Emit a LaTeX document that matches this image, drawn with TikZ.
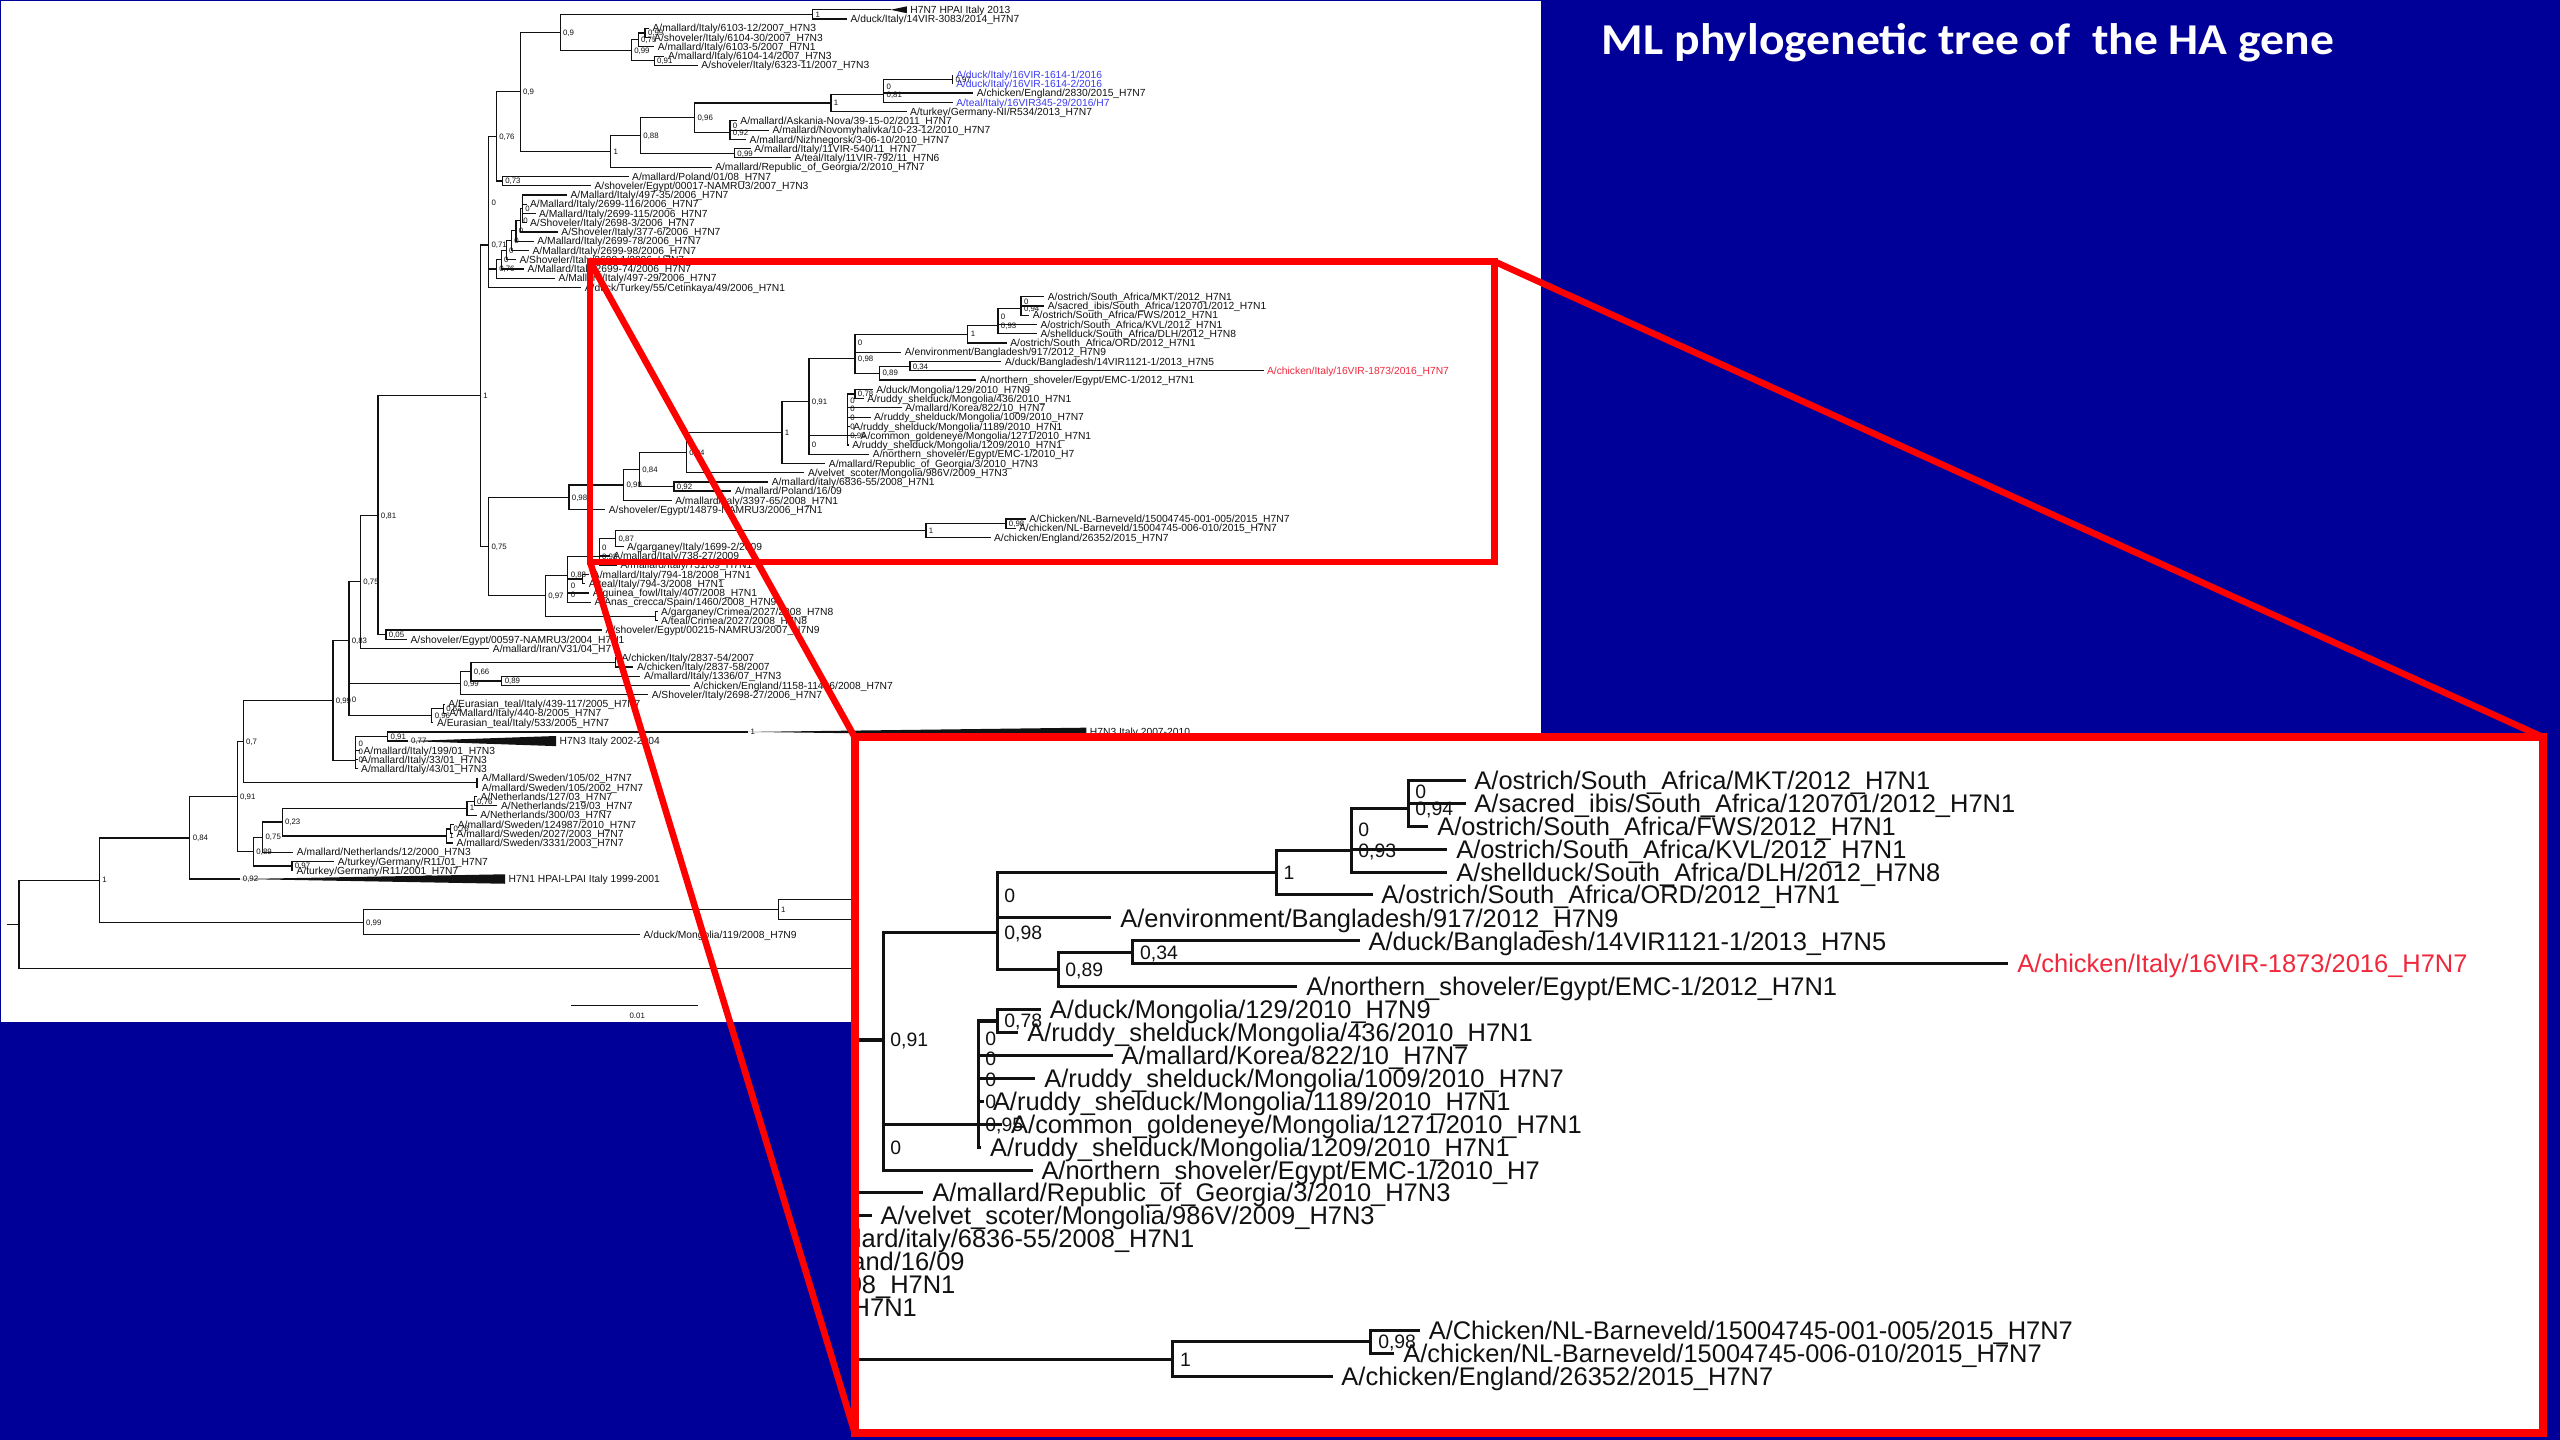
\documentclass[tikz,border=0pt]{standalone}
\usepackage{fontspec}
\usepackage{tikz}
\usetikzlibrary{positioning,calc}
\newfontfamily\treefont{Liberation Sans}
\newfontfamily\slidefont[FakeStretch=1.08]{Carlito}

\definecolor{slide}   {HTML}{000099}
\definecolor{ink}     {HTML}{111111}
\definecolor{hilite}  {HTML}{FF0000}
\definecolor{newblue} {HTML}{3C3CF5}
\definecolor{newred}  {HTML}{F0283C}

\tikzset{
  % --- nodes
  taxon/.style  = {anchor=west, inner xsep=2pt, inner ysep=0pt, text height=4.5pt, text depth=0pt,
                   text=ink, font=\treefont\fontsize{6.3}{7}\selectfont},
  newseq/.style = {taxon, text=newblue},
  query/.style  = {taxon, text=newred},
  sup/.style    = {anchor=west, inner sep=0pt, xshift=1.6pt, text height=3.44pt, text depth=0pt,
                   text=ink, font=\treefont\fontsize{4.8}{5.5}\selectfont},
  ttl/.style    = {anchor=base west, inner sep=0pt, text=white,
                   font=\slidefont\bfseries\fontsize{27}{31}\selectfont},
  % --- edges
  br/.style     = {draw=ink, line width=0.75pt},
  clade/.style  = {fill=ink},
  zoomline/.style = {draw=hilite, line width=4pt},
}

% taxon label at the tip of its branch
\newcommand\taxon[5][taxon]{\node[#1] (#2) at (#3,#4) {#5};}
% inner node with its support value
\newcommand\inode[4]{\coordinate (#1) at (#2,#3); \node[sup] (#1s) at (#1) {#4};}
% rectangular branches to the children
\newcommand\kids[2]{\foreach \kid in {#2} {\draw[br] (#1) |- (\kid);}}
% collapsed clade
\newcommand\clade[7]{\coordinate (#1) at (#2,#3);
  \fill[clade] (#1) -- (#4,{#3-#5}) -- (#4,{#3+#5}) -- cycle;
  \node[taxon] (#1l) at (#4,#3) {#6}; \node[sup] (#1s) at (#1) {#7};}

% --- upper clades (H7N7 2013 ... Cetinkaya)
\newcommand\treetop{%
  \clade{t01}{545.5}{6.0}{555.4}{2.1}{H7N7 HPAI Italy 2013}{}
  \taxon{l02}{518.8}{11.7}{A/duck/Italy/14VIR-3083/2014\_H7N7}
  \taxon{l03}{397.5}{17.3}{A/mallard/Italy/6103-12/2007\_H7N3}
  \taxon{l04}{398.5}{23.0}{A/shoveler/Italy/6104-30/2007\_H7N3}
  \taxon{l05}{400.7}{28.7}{A/mallard/Italy/6103-5/2007\_H7N1}
  \taxon{l06}{407.0}{34.4}{A/mallard/Italy/6104-14/2007\_H7N3}
  \taxon{l07}{427.4}{40.0}{A/shoveler/Italy/6323-11/2007\_H7N3}
  \taxon[newseq]{l08}{583.5}{45.7}{A/duck/Italy/16VIR-1614-1/2016}
  \taxon[newseq]{l09}{583.5}{51.4}{A/duck/Italy/16VIR-1614-2/2016}
  \taxon{l10}{596.1}{57.0}{A/chicken/England/2830/2015\_H7N7}
  \taxon[newseq]{l11}{583.5}{62.7}{A/teal/Italy/16VIR345-29/2016/H7}
  \taxon{l12}{555.3}{68.4}{A/turkey/Germany-NI/R534/2013\_H7N7}
  \taxon{l13}{451.3}{74.0}{A/mallard/Askania-Nova/39-15-02/2011\_H7N7}
  \taxon{l14}{471.0}{79.7}{A/mallard/Novomyhalivka/10-23-12/2010\_H7N7}
  \taxon{l15}{457.0}{85.4}{A/mallard/Nizhnegorsk/3-06-10/2010\_H7N7}
  \taxon{l16}{459.8}{91.1}{A/mallard/Italy/11VIR-540/11\_H7N7}
  \taxon{l17}{484.5}{96.7}{A/teal/Italy/11VIR-792/11\_H7N6}
  \taxon{l18}{435.9}{102.4}{A/mallard/Republic\_of\_Georgia/2/2010\_H7N7}
  \taxon{l19}{385.0}{108.1}{A/mallard/Poland/01/08\_H7N7}
  \taxon{l20}{362.0}{113.7}{A/shoveler/Egypt/00017-NAMRU3/2007\_H7N3}
  \taxon{l21}{347.3}{119.4}{A/Mallard/Italy/497-35/2006\_H7N7}
  \taxon{l22}{322.5}{125.1}{A/Mallard/Italy/2699-116/2006\_H7N7}
  \taxon{l23}{328.0}{130.7}{A/Mallard/Italy/2699-115/2006\_H7N7}
  \taxon{l24}{322.5}{136.4}{A/Shoveler/Italy/2698-3/2006\_H7N7}
  \taxon{l25}{341.7}{142.1}{A/Shoveler/Italy/377-6/2006\_H7N7}
  \taxon{l26}{327.0}{147.8}{A/Mallard/Italy/2699-78/2006\_H7N7}
  \taxon{l27}{324.0}{153.4}{A/Mallard/Italy/2699-98/2006\_H7N7}
  \taxon{l28}{316.0}{159.1}{A/Shoveler/Italy/2698-1/2006\_H7N7}
  \taxon{l29}{321.0}{164.8}{A/Mallard/Italy/2699-74/2006\_H7N7}
  \taxon{l30}{340.0}{170.4}{A/Mallard/Italy/497-29/2006\_H7N7}
  \taxon{l31}{356.0}{176.1}{A/duck/Turkey/55/Cetinkaya/49/2006\_H7N1}
  \inode{n1}{497.7}{8.85}{1}          \kids{n1}{t01,l02}
  \inode{a1}{395.1}{20.15}{0,99}      \kids{a1}{l03,l04}
  \inode{a2}{390.9}{24.4}{0,75}       \kids{a2}{a1,l05}
  \inode{a3}{400.7}{37.2}{0,91}       \kids{a3}{l06,l07}
  \inode{a4}{386.7}{30.8}{0,99}       \kids{a4}{a2,a3}
  \inode{n09a}{343.1}{19.8}{0,9}      \kids{n09a}{n1,a4}
  \inode{b1}{583.5}{48.55}{0,97}      \kids{b1}{l08,l09}
  \inode{b2}{541.3}{52.8}{0}          \kids{b2}{b1,l10}
  \inode{b3}{541.3}{57.75}{0,81}      \kids{b3}{b2,l11}
  \inode{b4}{509.0}{63.1}{1}          \kids{b4}{b3,l12}
  \inode{c1}{447.1}{76.85}{0}         \kids{c1}{l13,l14}
  \inode{c2}{447.1}{81.1}{0,92}       \kids{c2}{c1,l15}
  \inode{c3}{425.5}{72.1}{0,96}       \kids{c3}{b4,c2}
  \inode{c4}{449.9}{93.9}{0,99}       \kids{c4}{l16,l17}
  \inode{c5}{392.3}{83.0}{0,88}       \kids{c5}{c3,c4}
  \inode{c6}{374.0}{92.7}{1}          \kids{c6}{c5,l18}
  \inode{n09b}{318.6}{56.25}{0,9}     \kids{n09b}{n09a,c6}
  \inode{n073}{307.7}{110.9}{0,73}    \kids{n073}{l19,l20}
  \inode{n076}{304.0}{83.6}{0,76}     \kids{n076}{n09b,n073}
  \inode{d1}{320.0}{127.9}{0}         \kids{d1}{l21,l22,l23,l24}
  \inode{d2}{318.7}{135.0}{0}         \kids{d2}{d1,l25}
  \inode{d3}{316.0}{141.4}{0}         \kids{d3}{d2,l26}
  \inode{d4}{313.3}{147.4}{0}         \kids{d4}{d3,l27}
  \inode{d5}{310.0}{153.3}{0}         \kids{d5}{d4,l28}
  \inode{d6}{307.0}{159.0}{0}         \kids{d6}{d5,l29}
  \inode{n076b}{304.0}{164.7}{0,76}   \kids{n076b}{d6,l30}
  \inode{e1}{299.3}{124.15}{0}        \kids{e1}{n076,n076b}
  \inode{e2}{299.3}{150.1}{0,71}      \kids{e2}{e1,l31}
}

% --- the framed part (South Africa ... NL-Barneveld)
\newcommand\treered{%
  \taxon{l32}{639.6}{181.8}{A/ostrich/South\_Africa/MKT/2012\_H7N1}
  \taxon{l33}{639.6}{187.4}{A/sacred\_ibis/South\_Africa/120701/2012\_H7N1}
  \taxon{l34}{630.4}{193.1}{A/ostrich/South\_Africa/FWS/2012\_H7N1}
  \taxon{l35}{635.1}{198.8}{A/ostrich/South\_Africa/KVL/2012\_H7N1}
  \taxon{l36}{635.1}{204.5}{A/shellduck/South\_Africa/DLH/2012\_H7N8}
  \taxon{l37}{616.6}{210.1}{A/ostrich/South\_Africa/ORD/2012\_H7N1}
  \taxon{l38}{552.0}{215.8}{A/environment/Bangladesh/917/2012\_H7N9}
  \taxon{l39}{613.4}{221.5}{A/duck/Bangladesh/14VIR1121-1/2013\_H7N5}
  \taxon[query]{l40}{773.9}{227.1}{A/chicken/Italy/16VIR-1873/2016\_H7N7}
  \taxon{l41}{598.0}{232.8}{A/northern\_shoveler/Egypt/EMC-1/2012\_H7N1}
  \taxon{l42}{534.6}{238.5}{A/duck/Mongolia/129/2010\_H7N9}
  \taxon{l43}{529.0}{244.1}{A/ruddy\_shelduck/Mongolia/436/2010\_H7N1}
  \taxon{l44}{552.3}{249.8}{A/mallard/Korea/822/10\_H7N7}
  \taxon{l45}{533.2}{255.5}{A/ruddy\_shelduck/Mongolia/1009/2010\_H7N7}
  \taxon{l46}{520.5}{261.2}{A/ruddy\_shelduck/Mongolia/1189/2010\_H7N1}
  \taxon{l47}{525.0}{266.8}{A/common\_goldeneye/Mongolia/1271/2010\_H7N1}
  \taxon{l48}{519.8}{272.5}{A/ruddy\_shelduck/Mongolia/1209/2010\_H7N1}
  \taxon{l49}{532.5}{278.2}{A/northern\_shoveler/Egypt/EMC-1/2010\_H7}
  \taxon{l50}{505.5}{283.8}{A/mallard/Republic\_of\_Georgia/3/2010\_H7N3}
  \taxon{l51}{492.7}{289.5}{A/velvet\_scoter/Mongolia/986V/2009\_H7N3}
  \taxon{l52}{470.5}{295.2}{A/mallard/italy/6836-55/2008\_H7N1}
  \taxon{l53}{448.0}{300.8}{A/mallard/Poland/16/09}
  \taxon{l54}{411.4}{306.5}{A/mallard/italy/3397-65/2008\_H7N1}
  \taxon{l55}{370.7}{312.2}{A/shoveler/Egypt/14879-NAMRU3/2006\_H7N1}
  \taxon{l56}{628.3}{317.9}{A/Chicken/NL-Barneveld/15004745-001-005/2015\_H7N7}
  \taxon{l57}{622.0}{323.5}{A/chicken/NL-Barneveld/15004745-006-010/2015\_H7N7}
  \taxon{l58}{606.7}{329.2}{A/chicken/England/26352/2015\_H7N7}
  \inode{s1}{625.4}{184.6}{0}         \kids{s1}{l32,l33}
  \inode{s2}{625.4}{188.85}{0,94}     \kids{s2}{s1,l34}
  \inode{s3}{611.3}{193.85}{0}        \kids{s3}{s2,l35}
  \inode{s4}{611.3}{199.2}{0,93}      \kids{s4}{s3,l36}
  \inode{s5}{592.8}{204.65}{1}        \kids{s5}{s4,l37}
  \inode{s6}{523.7}{210.2}{0}         \kids{s6}{s5,l38}
  \inode{s7}{557.3}{224.3}{0,34}      \kids{s7}{l39,l40}
  \inode{s8}{538.8}{228.55}{0,89}     \kids{s8}{s7,l41}
  \inode{s9}{523.7}{219.4}{0,98}      \kids{s9}{s6,s8}
  \inode{m1}{523.7}{241.3}{0,78}      \kids{m1}{l42,l43}
  \inode{m2}{519.0}{245.55}{0}        \kids{m2}{m1,l44}
  \inode{m3}{519.0}{250.5}{0}         \kids{m3}{m2,l45}
  \inode{m4}{519.0}{255.85}{0}        \kids{m4}{m3,l46}
  \inode{m5}{519.0}{261.3}{0}         \kids{m5}{m4,l47}
  \inode{m6}{519.0}{266.9}{0,95}      \kids{m6}{m5,l48}
  \inode{m7}{495.5}{272.55}{0}        \kids{m7}{m6,l49}
  \inode{s10}{495.5}{246.0}{0,91}     \kids{s10}{s9,m7}
  \inode{s11}{479.0}{264.9}{1}        \kids{s11}{s10,l50}
  \inode{q94}{420.4}{277.2}{0,94}     \kids{q94}{s11,l51}
  \inode{q92}{412.8}{298.0}{0,92}     \kids{q92}{l52,l53}
  \inode{q84}{391.7}{287.6}{0,84}     \kids{q84}{q94,q92}
  \inode{p98}{382.0}{297.05}{0,98}    \kids{p98}{q84,l54}
  \inode{f98}{348.5}{304.6}{0,98}     \kids{f98}{p98,l55}
  \inode{nl1}{616.2}{320.7}{0,98}     \kids{nl1}{l56,l57}
  \inode{nl2}{567.2}{324.95}{1}       \kids{nl2}{nl1,l58}
  \inode{j1}{377.1}{329.95}{0,87}     \kids{j1}{nl2}
}

% --- lower clades (garganey 2009 ... outgroup)
\newcommand\treelow{%
  \taxon{l59}{381.9}{334.9}{A/garganey/Italy/1699-2/2009}
  \taxon{l60}{373.5}{340.5}{A/mallard/Italy/738-27/2009}
  \taxon{l61}{378.0}{346.2}{A/mallard/Italy/731/09\_H7N1}
  \taxon{l62}{361.0}{351.9}{A/mallard/Italy/794-18/2008\_H7N1}
  \taxon{l63}{358.5}{357.5}{A/teal/Italy/794-3/2008\_H7N1}
  \taxon{l64}{361.0}{363.2}{A/guinea\_fowl/Italy/407/2008\_H7N1}
  \taxon{l65}{362.0}{368.9}{A/Anas\_crecca/Spain/1460/2008\_H7N9}
  \taxon{l66}{402.8}{374.6}{A/garganey/Crimea/2027/2008\_H7N8}
  \taxon{l67}{402.8}{380.2}{A/teal/Crimea/2027/2008\_H7N8}
  \taxon{l68}{368.8}{385.9}{A/shoveler/Egypt/00215-NAMRU3/2007\_H7N9}
  \taxon{l69}{249.3}{391.6}{A/shoveler/Egypt/00597-NAMRU3/2004\_H7N1}
  \taxon{l70}{299.7}{397.2}{A/mallard/Iran/V31/04\_H7}
  \taxon{l71}{378.5}{402.9}{A/chicken/Italy/2837-54/2007}
  \taxon{l72}{388.0}{408.6}{A/chicken/Italy/2837-58/2007}
  \taxon{l73}{392.3}{414.2}{A/mallard/Italy/1336/07\_H7N3}
  \taxon{l74}{422.7}{419.9}{A/chicken/England/1158-11406/2008\_H7N7}
  \taxon{l75}{397.0}{425.6}{A/Shoveler/Italy/2698-27/2006\_H7N7}
  \taxon{l76}{272.5}{431.3}{A/Eurasian\_teal/Italy/439-117/2005\_H7N7}
  \taxon{l77}{273.0}{436.9}{A/Mallard/Italy/440-8/2005\_H7N7}
  \taxon{l78}{265.5}{442.6}{A/Eurasian\_teal/Italy/533/2005\_H7N7}
  \clade{t79}{458.0}{448.3}{665.4}{2.6}{H7N3 Italy 2007-2010}{1}
  \clade{t80}{250.0}{453.9}{340.6}{3.1}{H7N3 Italy 2002-2004}{0,77}
  \taxon{l81}{220.5}{459.6}{A/mallard/Italy/199/01\_H7N3}
  \taxon{l82}{219.0}{465.3}{A/mallard/Italy/33/01\_H7N3}
  \taxon{l83}{219.0}{470.9}{A/mallard/Italy/43/01\_H7N3}
  \taxon{l84}{293.0}{476.6}{A/Mallard/Sweden/105/02\_H7N7}
  \taxon{l85}{293.0}{482.3}{A/mallard/Sweden/105/2002\_H7N7}
  \taxon{l86}{292.2}{487.9}{A/Netherlands/127/03\_H7N7}
  \taxon{l87}{304.7}{493.6}{A/Netherlands/219/03\_H7N7}
  \taxon{l88}{292.0}{499.3}{A/Netherlands/300/03\_H7N7}
  \taxon{l89}{278.2}{505.0}{A/mallard/Sweden/124987/2010\_H7N7}
  \taxon{l90}{277.5}{510.6}{A/mallard/Sweden/2027/2003\_H7N7}
  \taxon{l91}{277.5}{516.3}{A/mallard/Sweden/3331/2003\_H7N7}
  \taxon{l92}{179.7}{522.0}{A/mallard/Netherlands/12/2000\_H7N3}
  \taxon{l93}{204.7}{527.6}{A/turkey/Germany/R11/01\_H7N7}
  \taxon{l94}{179.5}{533.3}{A/turkey/Germany/R11/2001\_H7N7}
  \clade{t95}{147.0}{538.4}{309.4}{2.9}{H7N1 HPAI-LPAI Italy 1999-2001}{0,92}
  \taxon{l97}{392.0}{572.5}{A/duck/Mongolia/119/2008\_H7N9}
  \kids{j1}{l59}
  \inode{j2}{367.0}{335.2}{0}         \kids{j2}{j1,l60}
  \inode{j3}{367.0}{340.7}{0,98}      \kids{j3}{j2,l61}
  \coordinate (k1) at (357.0,354.7);  \kids{k1}{l62,l63}
  \inode{k2}{347.8}{358.95}{0}        \kids{k2}{k1,l64}
  \inode{k3}{347.8}{363.95}{0}        \kids{k3}{k2,l65}
  \inode{h1}{347.8}{352.3}{0,88}      \kids{h1}{j3,k3}
  \coordinate (cr) at (401.6,377.4);  \kids{cr}{l66,l67}
  \inode{g1}{334.0}{364.85}{0,97}     \kids{g1}{h1,cr}
  \inode{n075}{299.3}{334.7}{0,75}    \kids{n075}{f98,g1}
  \inode{r1}{294.2}{242.4}{1}         \kids{r1}{e2,n075}
  \inode{o05}{236.4}{388.75}{0,05}    \kids{o05}{l68,l69}
  \inode{m81}{231.5}{315.6}{0,81}     \kids{m81}{r1,o05}
  \inode{m75}{220.8}{356.4}{0,75}     \kids{m75}{m81,l70}
  \inode{ck}{377.0}{405.75}{1}        \kids{ck}{l71,l72}
  \inode{c89}{307.4}{417.05}{0,89}    \kids{c89}{l73,l74}
  \inode{c66}{288.5}{411.4}{0,66}     \kids{c66}{ck,c89}
  \inode{v1}{282.1}{418.5}{0,99}      \kids{v1}{c66,l75}
  \inode{w2}{271.6}{434.1}{0,62}      \kids{w2}{l76,l77}
  \inode{w1}{264.5}{438.35}{0,96}     \kids{w1}{w2,l78}
  \inode{q1}{213.7}{428.4}{0}         \kids{q1}{v1,w1}
  \inode{m83}{213.7}{392.4}{0,83}     \kids{m83}{m75,q1}
  \inode{u91}{237.5}{451.1}{0,91}     \kids{u91}{t79,t80}
  \inode{u3}{217.8}{455.35}{0}        \kids{u3}{u91,l81}
  \inode{u2}{217.8}{460.3}{0}         \kids{u2}{u3,l82}
  \inode{u1}{217.8}{465.6}{0}         \kids{u1}{u2,l83}
  \inode{q3}{203.9}{429.0}{0,99}      \kids{q3}{m83,u1}
  \coordinate (x1) at (292.2,479.45); \kids{x1}{l84,l85}
  \inode{n07}{149.0}{454.2}{0,7}      \kids{n07}{q3,x1}
  \inode{ne1}{290.5}{490.75}{0,76}    \kids{ne1}{l86,l87}
  \inode{ne2}{286.0}{495.0}{1}        \kids{ne2}{ne1,l88}
  \inode{sw1}{276.0}{507.8}{0,76}     \kids{sw1}{l89,l90}
  \inode{sw2}{273.4}{512.05}{1}       \kids{sw2}{sw1,l91}
  \inode{z1}{172.8}{503.5}{0,23}      \kids{z1}{ne2,sw2}
  \inode{z2}{160.9}{512.75}{0,75}     \kids{z2}{z1,l92}
  \inode{tk}{178.8}{530.45}{0,97}     \kids{tk}{l93,l94}
  \inode{y1}{155.3}{521.6}{0,89}      \kids{y1}{z2,tk}
  \inode{n91}{145.3}{487.9}{0,91}     \kids{n91}{n07,y1}
  \inode{n84}{116.3}{513.3}{0,84}     \kids{n84}{n91,t95}
  \coordinate (hc1) at (540,551.1);   \coordinate (hc2) at (540,563.3);
  \inode{hh}{476.6}{557.2}{1}         \kids{hh}{hc1,hc2}
  \inode{o99}{222.5}{564.85}{0,99}    \kids{o99}{hh,l97}
  \inode{n1r}{60.9}{539.1}{1}         \kids{n1r}{n84,o99}
  \coordinate (og) at (540,593);
  \coordinate (root) at (11.6,566.05); \kids{root}{n1r,og}
  \coordinate (stub) at (4,566.05);   \draw[br] (stub) -- (root);
}

\begin{document}
\begin{tikzpicture}[x=1pt,y=-1pt]
  \useasboundingbox (0,0) rectangle (1568,882);
  \fill[slide] (0,0) rectangle (1568,882);
  \fill[white] (0.7,0.7) rectangle (944,626);

  % the tree
  \treetop
  \treered
  \treelow
  \coordinate (sb1) at (349.7,616); \coordinate (sb2) at (427.8,616);
  \draw[br] (sb1) -- (sb2);
  \node[sup, anchor=center, xshift=0pt] (sbl) at (388.7,622) {0.01};

  % highlighted part and its enlargement
  \draw[hilite, line width=3.8pt] (361.4,160.2) rectangle (915.4,344);
  \coordinate (za) at (361.4,160.2); \coordinate (zb) at (361.4,344); \coordinate (zc) at (915.4,160.2);
  \coordinate (ba) at (523.5,451.5); \coordinate (bb) at (523.5,877.5); \coordinate (bc) at (1557.5,451.5);
  \draw[zoomline] (za) -- (ba);
  \draw[zoomline] (zb) -- (bb);
  \draw[zoomline] (zc) -- (bc);
  \fill[white] (ba) rectangle (1557.5,877.5);
  \begin{scope}[transform canvas={xshift=-686pt,yshift=-27.9pt,scale=2.476}]
    \clip (488.5,171.1) rectangle (906.1,343.1);
    \treered
  \end{scope}
  \draw[hilite, line width=5pt] (ba) rectangle (1557.5,877.5);

  \node[ttl] (title) at (981,33.3) {ML phylogenetic tree of\ \ the HA gene};
\end{tikzpicture}
\end{document}
